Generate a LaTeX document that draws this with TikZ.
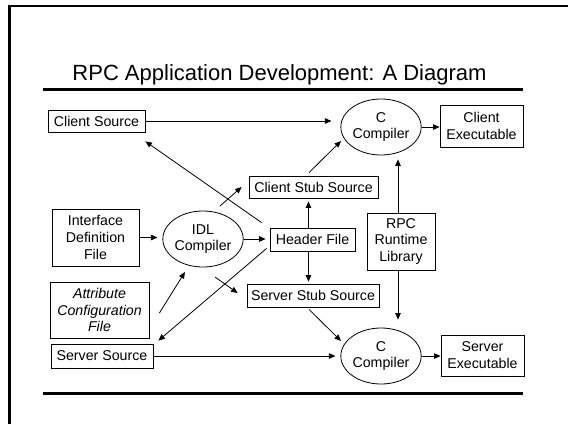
\documentclass[tikz,border=0pt]{standalone}
\usepackage{fontspec}
\setmainfont{Liberation Sans}
\usetikzlibrary{arrows.meta,shapes.geometric}
\begin{document}
\begin{tikzpicture}[x=1pt,y=-1pt,
  lbl/.style={font=\fontsize{14.2}{16.8}\selectfont},
  box/.style={lbl,draw=black,line width=0.8pt,inner sep=0pt,align=center},
  oval/.style={lbl,ellipse,draw=black,line width=0.8pt,inner sep=0pt,align=center,
    minimum width=80pt,minimum height=56pt},
  flow/.style={line width=0.8pt,-{Triangle[length=6.5pt,width=5.5pt]}},
  rule/.style={line width=3pt}]
\useasboundingbox (0,0) rectangle (568,424);

% page frame (left and top edges)
\draw[line width=2.5pt] (9.5,424) -- (9.5,6) -- (568,6);

% title and rules
\node[font=\fontsize{22}{26}\selectfont,anchor=base,inner sep=0pt] (title) at (279.5,80)
  {RPC Application Development: A Diagram};
\draw[rule] (43,89) -- (523,89);
\draw[rule] (43,393) -- (523,393);

% sources and inputs
\node[box,minimum width=97pt,minimum height=22pt] (cs) at (96.5,121) {Client Source};
\node[box,minimum width=87pt,minimum height=57pt] (idf) at (95.5,237.5) {Interface\\Definition\\File};
\node[box,minimum width=99pt,minimum height=56pt,font=\fontsize{14.2}{16.8}\selectfont\itshape] (acf) at (99.5,310) {Attribute\\Configuration\\File};
\node[box,minimum width=102pt,minimum height=24pt] (ss) at (102,356) {Server Source};

% compilers
\node[oval] (idl) at (203,239) {IDL\\Compiler};
\node[oval] (cc1) at (381,127) {C\\Compiler};
\node[oval] (cc2) at (381,356) {C\\Compiler};

% generated files
\node[box,minimum width=85pt,minimum height=23pt] (hf) at (312.5,239.5) {Header File};
\node[box,minimum width=129pt,minimum height=22pt] (css) at (313.5,187) {Client Stub Source};
\node[box,minimum width=132pt,minimum height=23pt] (sss) at (313,295.5) {Server Stub Source};
\node[box,minimum width=68pt,minimum height=57pt] (rpc) at (401,241.5) {RPC\\Runtime\\Library};

% executables
\node[box,minimum width=83pt,minimum height=42pt] (ce) at (481.5,126) {Client\\Executable};
\node[box,minimum width=83pt,minimum height=41pt] (se) at (482.5,355.5) {Server\\Executable};

% connectors
\draw[flow,shorten >=9pt] (cs.east) -- (cs.east -| cc1.west);
\draw[flow] (cc1.east) -- (cc1.east -| ce.west);
\draw[flow,shorten >=5pt] (idf.east) -- (idf.east -| idl.west);
\draw[flow,shorten >=4pt] (idl.east) -- (idl.east -| hf.west);
\draw[flow] ([shift={(-8,-5)}]hf.north west) -- ([shift={(0,9)}]cs.south east);
\draw[flow] ([shift={(17,-33)}]idl.center) -- ([shift={(-7,0)}]css.west);
\draw[flow] ([shift={(-4.5,-3)}]css.north) -- ([shift={(-40,14)}]cc1.center);
\draw[flow,shorten >=3pt] ([xshift=-4]hf.north) -- ([xshift=-4]hf.north |- css.south);
\draw[flow,shorten >=2pt] ([xshift=-4]hf.south) -- ([xshift=-4]hf.south |- sss.north);
\draw[flow] ([shift={(12,38)}]idl.center) -- ([shift={(-9,-2.5)}]sss.west);
\draw[flow] ([shift={(10,3)}]acf.east) -- ([shift={(-18,33)}]idl.center);
\draw[flow] ([shift={(-3,-3)}]hf.south west) -- ([shift={(5,-3)}]ss.north east);
\draw[flow] ([shift={(-4,2)}]sss.south) -- ([shift={(-40,-15)}]cc2.center);
\draw[flow,shorten >=5pt] (ss.east) -- (ss.east -| cc2.west);
\draw[flow] (cc2.east) -- (cc2.east -| se.west);
\draw[flow,shorten >=4pt] ([xshift=-3]rpc.north) -- ([xshift=-3]rpc.north |- cc1.south);
\draw[flow,shorten >=8pt] ([xshift=-3]rpc.south) -- ([xshift=-3]rpc.south |- cc2.north);
\end{tikzpicture}
\end{document}
